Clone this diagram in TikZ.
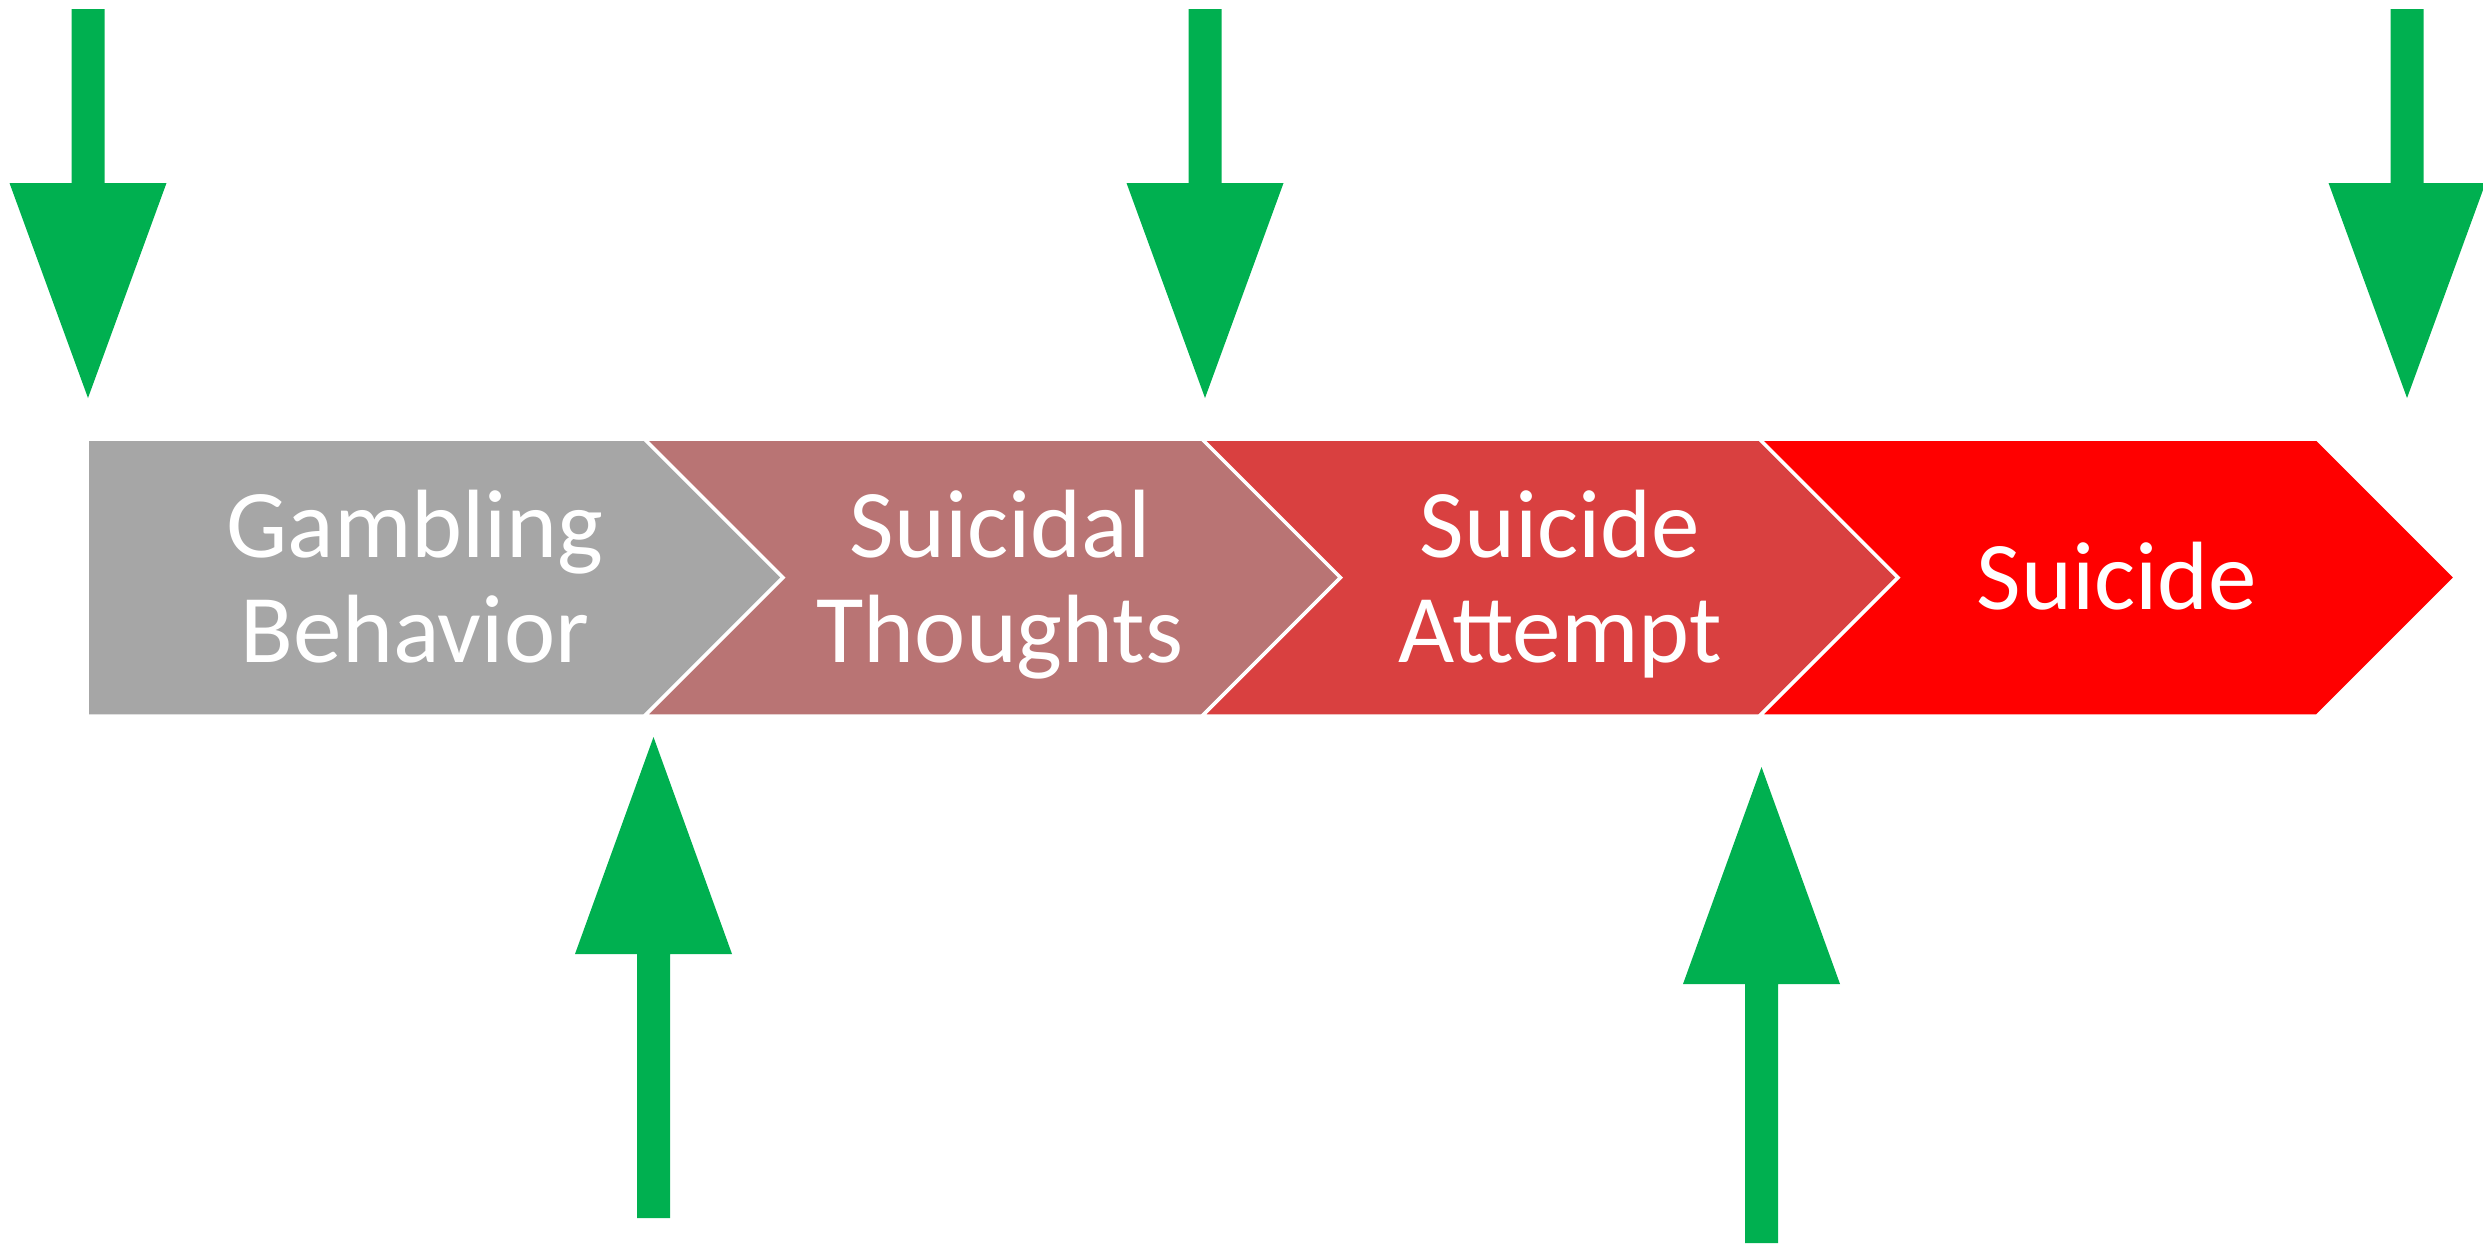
\documentclass[tikz,border=0pt]{standalone}
\usepackage{fontspec}
\setmainfont{Carlito}
\usepackage{tikz}
\usetikzlibrary{positioning}
\definecolor{stagegray}{RGB}{166,166,166}
\definecolor{stagerose}{RGB}{185,116,116}
\definecolor{stagebrick}{RGB}{217,64,64}
\definecolor{stagered}{RGB}{255,0,0}
\definecolor{cuegreen}{RGB}{0,176,80}

\begin{document}
\begin{tikzpicture}[
    x=0.01cm, y=-0.01cm,
    stage/.style={draw=white, line width=1pt, line join=miter},
    lbl/.style={text=white, font=\fontsize{27.6}{29.9}\selectfont,
                text width=4.2cm, align=center, anchor=base, inner sep=0pt},
    cuearrow/.style={fill=cuegreen}
  ]
    \useasboundingbox (0,0) rectangle (2483,1247);

    % chevron band
    \foreach \col [count=\i from 0] in {stagegray,stagerose,stagebrick,stagered} {
      \pgfmathsetmacro{\xl}{87+557.5*\i}
      \pgfmathsetmacro{\nd}{\i==0 ? 0 : 138.5}
      \filldraw[stage, fill=\col] (\xl,439) -- (\xl+557.5,439) -- (\xl+696,577.5)
        -- (\xl+557.5,716) -- (\xl,716) -- (\xl+\nd,577.5) -- cycle;
    }

    \node[lbl] (gambling) at (415,557) {Gambling\\Behavior};
    \node[lbl] (thoughts) at (1000,557) {Suicidal\\Thoughts};
    \node[lbl] (attempt) at (1560,557) {Suicide\\Attempt};
    \node[lbl] (suicide) at (2117,609) {Suicide};

    % arrows from above
    \foreach \xc in {88,1205,2407} {
      \fill[cuearrow] (\xc-16.5,9) -- (\xc+16.5,9) -- (\xc+16.5,183) -- (\xc+78.5,183)
        -- (\xc,398) -- (\xc-78.5,183) -- (\xc-16.5,183) -- cycle;
    }

    % arrows from below
    \foreach \xc/\yt/\yb in {653.5/737/1218, 1761.5/767/1243} {
      \fill[cuearrow] (\xc,\yt) -- (\xc+78.5,\yt+217) -- (\xc+16.5,\yt+217)
        -- (\xc+16.5,\yb) -- (\xc-16.5,\yb) -- (\xc-16.5,\yt+217)
        -- (\xc-78.5,\yt+217) -- cycle;
    }
\end{tikzpicture}
\end{document}
